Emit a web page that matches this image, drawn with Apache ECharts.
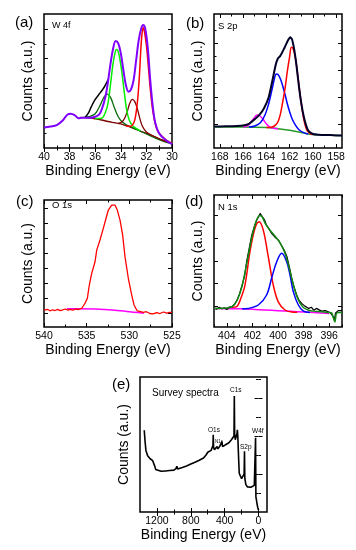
<!DOCTYPE html>
<html><head><meta charset="utf-8">
<script src="https://cdn.jsdelivr.net/npm/echarts@6/dist/echarts.min.js"></script>
<style>html,body{margin:0;padding:0;background:#fff}#c{width:356px;height:550px}</style>
</head><body><div id="c"></div>
<script>
// ---------- Panel (a) W 4f ----------
const aXMajor = [40,38,36,34,32,30];
const aXMinor = [39,37,35,33,31];
const aYMajor = [1,2,3,4];
const aYMinor = [0.5,1.5,2.5,3.5];
const aPurple = [[40,0.69],[39.5,0.72],[39,0.77],[38.5,0.94],[38.2,1.11],[37.9,1.15],[37.6,1.10],[37.3,1.0],[37.0,1.02],[36.5,1.02],[36.0,1.05],[35.7,1.12],[35.5,1.28],[35.2,1.72],[35.0,2.23],[34.8,2.84],[34.6,3.34],[34.4,3.59],[34.2,3.51],[34.0,3.18],[33.8,2.62],[33.6,2.11],[33.4,1.89],[33.2,1.97],[33.0,2.28],[32.8,2.95],[32.6,3.62],[32.4,4.02],[32.25,4.13],[32.1,4.02],[31.9,3.4],[31.7,2.28],[31.5,1.39],[31.3,0.83],[31.0,0.49],[30.5,0.27],[30,0.13]];
const aBlack = [[36.8,1.02],[36.5,1.2],[36.3,1.39],[36.0,1.63],[35.6,1.86],[35.3,2.04],[35.1,2.2],[35.0,2.3]];
const aBackground = [[37.2,1.03],[36.5,1.01],[36,0.98],[35.5,0.94],[35,0.89],[34.5,0.85],[34,0.81],[33.5,0.74],[33,0.66],[32.5,0.57],[32,0.49],[31.5,0.40],[31,0.31],[30.5,0.22],[30,0.16]];
const aDarkGreen = [[37.0,1.02],[36.5,1.05],[36.0,1.15],[35.6,1.45],[35.3,1.72],[35.05,1.81],[34.8,1.7],[34.5,1.35],[34.2,1.05],[33.9,0.88],[33.5,0.76],[33,0.67],[32.5,0.57],[32,0.47],[31.5,0.37],[31,0.28],[30.5,0.2],[30,0.14]];
const aGreen = [[36.0,0.99],[35.5,1.0],[35.2,1.2],[35.0,1.5],[34.8,2.15],[34.6,2.85],[34.4,3.28],[34.3,3.31],[34.15,3.15],[33.95,2.65],[33.75,1.95],[33.55,1.3],[33.35,0.95],[33.1,0.76],[32.8,0.66],[32.5,0.58]];
const aDarkRed = [[34.2,0.83],[33.9,0.88],[33.7,1.0],[33.5,1.22],[33.3,1.5],[33.1,1.63],[32.9,1.55],[32.7,1.3],[32.5,0.97],[32.3,0.72],[32.0,0.54],[31.5,0.41],[31,0.31],[30.5,0.22],[30,0.16]];
const aRed = [[33.6,0.75],[33.3,0.73],[33.1,0.76],[32.9,0.95],[32.7,1.55],[32.55,2.4],[32.45,3.2],[32.35,3.8],[32.25,4.05],[32.15,3.9],[32.0,3.45],[31.85,2.75],[31.7,2.0],[31.5,1.25],[31.3,0.8],[31.1,0.55],[30.8,0.4],[30.4,0.25],[30,0.16]];

// ---------- Panel (b) S 2p ----------
const bXMajor = [168,166,164,162,160,158];
const bXMinor = [167,165,163,161,159];
const bYMajor = [1,2,3,4];
const bYMinor = [1.5,2.5,3.5,4.5];
const bBlack = [[168.5,0.9],[167.5,0.91],[166.5,0.92],[166.0,0.94],[165.5,1.0],[165.0,1.17],[164.6,1.33],[164.2,1.58],[163.8,1.99],[163.5,2.57],[163.2,3.19],[163.0,3.44],[162.8,3.53],[162.5,3.78],[162.2,4.06],[161.95,4.22],[161.8,4.15],[161.6,3.75],[161.4,3.13],[161.2,2.39],[161.0,1.77],[160.8,1.30],[160.6,0.96],[160.4,0.75],[160.0,0.62],[159.5,0.59],[159.0,0.58],[158.5,0.58],[158.0,0.57],[157.5,0.57]];
const bBackground = [[168.5,0.88],[166,0.88],[164,0.86],[163,0.82],[162,0.76],[161,0.68],[160.5,0.63],[160,0.6],[159,0.58],[157.5,0.57]];
const bMagenta = [[166.0,0.88],[165.6,0.93],[165.3,1.08],[165.0,1.25],[164.8,1.33],[164.6,1.31],[164.3,1.18],[164.0,1.0],[163.7,0.88],[163.3,0.83],[163,0.82]];
const bBlue = [[165.5,0.88],[165.0,0.92],[164.5,1.05],[164.1,1.35],[163.8,1.75],[163.5,2.3],[163.3,2.7],[163.15,2.86],[163.0,2.84],[162.8,2.68],[162.6,2.42],[162.4,2.1],[162.2,1.75],[162.0,1.45],[161.8,1.2],[161.5,0.95],[161.2,0.78],[160.8,0.67],[160.4,0.62]];
const bRed = [[164.0,0.86],[163.5,0.88],[163.2,0.96],[163.0,1.08],[162.8,1.35],[162.6,1.8],[162.4,2.3],[162.2,2.95],[162.0,3.5],[161.85,3.85],[161.7,3.8],[161.5,3.45],[161.3,2.8],[161.1,2.1],[160.9,1.45],[160.7,1.0],[160.5,0.75],[160.2,0.63],[160.0,0.6]];

// ---------- Panel (c) O 1s ----------
const cXMajor = [540,535,530,525];
const cXMinor = [537.5,532.5,527.5];
const cYMajor = [1,2,3,4,5,6,7,8];
const cYMinor = [];
const cRed = [[540,1.22],[539.6,1.28],[539.3,1.18],[539.0,1.25],[538.7,1.2],[538.4,1.27],[538.1,1.19],[537.8,1.24],[537.5,1.3],[537.2,1.22],[536.9,1.27],[536.6,1.22],[536.3,1.3],[536.0,1.26],[535.8,1.33],[535.58,1.35],[535.4,1.5],[535.2,1.68],[534.92,2.01],[534.69,2.9],[534.41,3.68],[534.02,4.45],[533.82,5.23],[533.44,5.9],[533.05,6.68],[532.73,7.35],[532.46,7.9],[532.07,8.23],[531.85,8.2],[531.68,8.23],[531.41,7.9],[531.09,7.23],[530.78,6.23],[530.51,4.79],[530.12,3.35],[529.72,2.23],[529.45,1.57],[529.07,1.17],[528.7,1.12],[528.36,1.07],[528.0,1.12],[527.6,1.0],[527.2,0.97],[526.8,1.06],[526.4,1.0],[526.0,1.1],[525.6,1.02],[525.3,1.08],[525,1.07]];
const cMagenta = [[537.3,1.32],[536,1.32],[534,1.3],[532,1.24],[530,1.12],[529,1.06],[528.3,1.02]];

// ---------- Panel (d) N 1s ----------
const dXMajor = [404,402,400,398,396];
const dXMinor = [405,403,401,399,397,395];
const dYMajor = [1,2,3,4,5];
const dYMinor = [];
const dBlack = [[405,0.92],[404.8,0.86],[404.6,0.95],[404.4,0.88],[404.2,0.93],[404.0,0.85],[403.8,0.96],[403.6,0.98],[403.4,1.08],[403.2,1.27],[403.0,1.55],[402.8,1.93],[402.6,2.35],[402.45,2.96],[402.25,3.55],[402.05,4.13],[401.85,4.5],[401.67,4.79],[401.5,4.95],[401.4,5.09],[401.3,5.0],[401.2,5.02],[401.05,4.8],[400.9,4.57],[400.75,4.45],[400.6,4.3],[400.5,4.21],[400.35,4.15],[400.25,4.05],[400.1,3.99],[399.95,3.9],[399.8,3.75],[399.7,3.69],[399.5,3.45],[399.3,3.18],[399.1,2.7],[398.93,2.23],[398.75,1.85],[398.54,1.49],[398.35,1.25],[398.15,1.12],[397.9,1.0],[397.6,0.9],[397.4,0.95],[397.2,0.82],[397.0,0.9],[396.85,0.83],[396.6,0.78],[396.3,0.8],[396.07,0.75],[395.9,0.7],[395.7,0.55],[395.6,0.38],[395.5,0.7],[395.4,0.62],[395.3,0.8],[395.2,0.75],[395,0.8]];
const dGreen = [[405,0.9],[404,0.92],[403.6,0.97],[403.2,1.25],[402.8,1.9],[402.4,3.0],[402.0,4.15],[401.7,4.75],[401.45,5.0],[401.25,4.95],[401.0,4.65],[400.7,4.4],[400.4,4.2],[400.1,4.0],[399.8,3.75],[399.5,3.4],[399.2,2.85],[398.9,2.15],[398.6,1.55],[398.3,1.15],[398.0,0.93],[397.6,0.82],[397.2,0.78],[396.8,0.76],[396.4,0.74],[396.0,0.72],[395.8,0.7],[395.65,0.45],[395.55,0.3],[395.45,0.65],[395.3,0.72],[395,0.72]];
const dRed = [[403.6,0.95],[403.23,0.98],[402.9,1.35],[402.58,1.93],[402.19,3.4],[401.8,4.43],[401.48,4.72],[401.15,4.35],[400.76,3.18],[400.37,1.93],[399.98,1.19],[399.45,0.83],[398.93,0.74],[398.5,0.73]];
const dBlue = [[402.8,0.88],[402.32,0.9],[401.54,1.05],[400.89,1.49],[400.5,2.23],[400.1,2.96],[399.71,3.33],[399.32,2.96],[399.06,2.37],[398.8,1.63],[398.41,1.05],[398.02,0.78],[397.5,0.72]];
const dMagenta = [[405,0.9],[403,0.88],[402,0.86],[401,0.83],[400,0.8],[399,0.77],[398,0.74],[397,0.71],[396,0.68]];

// ---------- Panel (e) Survey ----------
const eXMajor = [1200,800,400,0];
const eXMinor = [1000,600,200];
const eYMajor = [1,2,3];
const eYMinor = [0.5,1.5,2.5,3.5];
const eSurvey = [[1350,2.15],[1340,1.85],[1330,1.62],[1310,1.48],[1280,1.4],[1250,1.35],[1235,1.32],[1225,1.2],[1215,1.12],[1200,1.08],[1150,1.07],[1100,1.08],[1050,1.09],[1000,1.1],[975,1.14],[965,1.2],[955,1.13],[940,1.14],[900,1.17],[850,1.21],[800,1.26],[750,1.31],[700,1.36],[650,1.42],[620,1.5],[600,1.57],[580,1.6],[560,1.62],[545,1.63],[538,1.75],[535,2.03],[531,1.7],[520,1.64],[500,1.67],[490,1.72],[480,1.66],[460,1.72],[440,1.75],[432,1.85],[425,1.72],[410,1.73],[380,1.78],[350,1.82],[320,1.9],[300,1.95],[290,2.0],[286,3.05],[282,2.05],[275,1.9],[265,1.95],[255,2.05],[250,2.16],[245,2.0],[235,1.4],[228,1.02],[215,0.95],[200,0.88],[180,0.85],[170,1.0],[166,1.6],[162,0.9],[150,0.72],[130,0.66],[110,0.64],[90,0.65],[70,0.68],[50,0.7],[40,0.72],[35,1.95],[31,0.4],[20,0.25],[10,0.12],[0,0.05]];

const FONT = '"Liberation Sans", Arial, sans-serif';
const panels = [
  {rect:{left:44,top:14,width:128,height:134}, xmin:30, xmax:40, ymin:0, ymax:4.5, xM:aXMajor, xm:aXMinor, yM:aYMajor, ym:aYMinor},
  {rect:{left:214,top:14,width:128,height:134}, xmin:157.5, xmax:168.5, ymin:0.1, ymax:5.09, xM:bXMajor, xm:bXMinor, yM:bYMajor, ym:bYMinor},
  {rect:{left:44,top:200,width:128,height:127}, xmin:525, xmax:540, ymin:0.1, ymax:8.57, xM:cXMajor, xm:cXMinor, yM:cYMajor, ym:cYMinor},
  {rect:{left:214,top:195,width:128,height:132}, xmin:395, xmax:405, ymin:0.08, ymax:5.9, xM:dXMajor, xm:dXMinor, yM:dYMajor, ym:dYMinor},
  {rect:{left:140,top:377,width:127,height:135}, xmin:-100, xmax:1400, ymin:0, ymax:3.55, xM:eXMajor, xm:eXMinor, yM:eYMajor, ym:eYMinor}
];

const grid=[], xAxis=[], yAxis=[];
const tickStyle = {color:'#000', width:1};
panels.forEach((p,i)=>{
  grid.push(Object.assign({show:true, borderColor:'#000', borderWidth:1.5, backgroundColor:'transparent'}, p.rect));
  const xb = {gridIndex:i, type:'value', min:p.xmin, max:p.xmax, inverse:true, axisLine:{show:false}, splitLine:{show:false}};
  xAxis.push(Object.assign({}, xb, {position:'bottom',
    axisTick:{inside:true, length:4, customValues:p.xM, lineStyle:tickStyle},
    axisLabel:{customValues:p.xM, margin:4, fontSize:10.5, color:'#000', fontFamily:FONT, formatter:(v)=>String(v)},
    name:'Binding Energy (eV)', nameLocation:'middle', nameGap:16,
    nameTextStyle:{fontSize:14, color:'#000', fontFamily:FONT}}));
  xAxis.push(Object.assign({}, xb, {position:'top', axisTick:{inside:true, length:4, customValues:p.xM, lineStyle:tickStyle}, axisLabel:{show:false}}));
  xAxis.push(Object.assign({}, xb, {position:'bottom', axisTick:{show:p.xm.length>0, inside:true, length:2.5, customValues:p.xm, lineStyle:tickStyle}, axisLabel:{show:false}}));
  xAxis.push(Object.assign({}, xb, {position:'top', axisTick:{show:p.xm.length>0, inside:true, length:2.5, customValues:p.xm, lineStyle:tickStyle}, axisLabel:{show:false}}));
  const yb = {gridIndex:i, type:'value', min:p.ymin, max:p.ymax, axisLine:{show:false}, splitLine:{show:false}, axisLabel:{show:false}};
  yAxis.push(Object.assign({}, yb, {position:'left', axisTick:{inside:true, length:4, customValues:p.yM, lineStyle:tickStyle},
    name:'Counts (a.u.)', nameLocation:'middle', nameGap:9, nameRotate:90,
    nameTextStyle:{fontSize:14, color:'#000', fontFamily:FONT}}));
  yAxis.push(Object.assign({}, yb, {position:'right', axisTick:{inside:true, length:4, customValues:p.yM, lineStyle:tickStyle}}));
  yAxis.push(Object.assign({}, yb, {position:'left', axisTick:{show:p.ym.length>0, inside:true, length:2.5, customValues:p.ym, lineStyle:tickStyle}}));
  yAxis.push(Object.assign({}, yb, {position:'right', axisTick:{show:p.ym.length>0, inside:true, length:2.5, customValues:p.ym, lineStyle:tickStyle}}));
});

function line(panel, data, color, width, smooth){
  return {type:'line', xAxisIndex:panel*4, yAxisIndex:panel*4, data:data, showSymbol:false, symbol:'none',
    smooth:smooth===undefined?0.35:smooth, lineStyle:{color:color, width:width||1.5}, silent:true, animation:false};
}
const series = [
  line(0, aBackground, '#7a0000', 1.3),
  line(0, aDarkGreen, '#0a6a0a', 1.3),
  line(0, aDarkRed, '#800000', 1.3),
  line(0, aGreen, '#00ee00', 1.5),
  line(0, aRed, '#ff0000', 1.5),
  line(0, aBlack, '#000000', 1.5),
  line(0, aPurple, '#8000ff', 2),
  line(1, bBackground, '#2a9a2a', 1.5),
  line(1, bMagenta, '#ff00ff', 1.5),
  line(1, bBlue, '#0000ff', 1.5),
  line(1, bRed, '#ff0000', 1.5),
  line(1, bBlack, '#000028', 2, 0.2),
  line(2, cMagenta, '#ff00ff', 1.5),
  line(2, cRed, '#ff0000', 1.3, false),
  line(3, dMagenta, '#ff00ff', 1.5),
  line(3, dRed, '#ff0000', 1.5),
  line(3, dBlue, '#0000ff', 1.5),
  line(3, dBlack, '#000000', 1.2, false),
  line(3, dGreen, '#118811', 1.5, 0.2),
  line(4, eSurvey, '#000000', 1.6, false)
];

function txt(x,y,s,size){
  return {type:'text', x:x, y:y, style:{text:s, font:size+'px '+FONT, fill:'#000', textVerticalAlign:'middle'}};
}
const graphic = [
  txt(15,23,'(a)',15), txt(52,26,'W 4f',9),
  txt(186,24,'(b)',15), txt(218,26,'S 2p',9.5),
  txt(16,202,'(c)',15), txt(52,205,'O 1s',9.5),
  txt(185,202,'(d)',15), txt(218,207,'N 1s',9.5),
  txt(112,385,'(e)',15), txt(152,393,'Survey spectra',10),
  txt(230,390,'C1s',6.5), txt(208,430,'O1s',6.5), txt(215,442,'N1s',4.5),
  txt(240,447,'S2p',6.5), txt(252,431,'W4f',6.5)
];

const chart = echarts.init(document.getElementById('c'), null, {renderer:'canvas'});
chart.setOption({animation:false, grid, xAxis, yAxis, series, graphic});
</script></body></html>
